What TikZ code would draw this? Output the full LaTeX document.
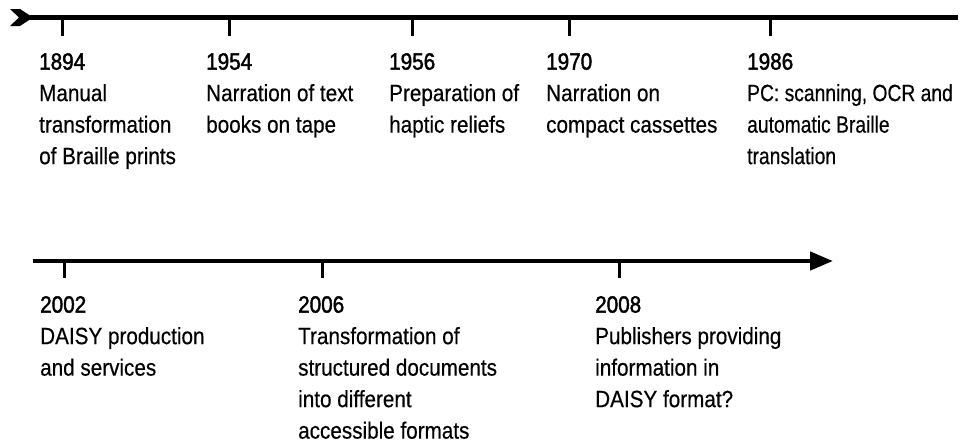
\documentclass[tikz,border=0pt]{standalone}
\usepackage{fontspec}
\setmainfont{Liberation Sans}[FakeStretch=0.88,FakeBold=0.4]
\newfontfamily\yearfont{Liberation Sans}[FakeStretch=0.88,FakeBold=1.8]
\newfontfamily\narrowfont{Liberation Sans}[FakeStretch=0.82,FakeBold=0.4]
\usetikzlibrary{arrows.meta,positioning}

\begin{document}
\begin{tikzpicture}[
        x=1pt, y=-1pt,
        axis/.style={line width=4.5pt},
        tickmark/.style={line width=3pt},
        event/.style={anchor=north west,align=left,inner sep=0pt,
                      font=\fontsize{23.5}{31.5}\selectfont}
      ]
      \useasboundingbox (0,0) rectangle (965,445);

      % the two time axes
      \coordinate (topL) at (10,17.5);
      \coordinate (topR) at (958,17.5);
      \coordinate (botL) at (33,261);
      \coordinate (botR) at (833,261);
      \fill (topL) ++(0,-8.5) -- ++(10,0) -- ++(13,8.5) -- ++(-13,8.5)
            -- ++(-10,0) -- ++(9,-8.5) -- cycle;
      \draw[axis] (topL) ++(20,0) -- (topR);
      \draw[axis,-{Triangle[length=23pt,width=18pt]}] (botL) -- (botR);

      % events on the upper axis
      \foreach \x/\yr/\txt in {
          62/1894/{Manual\\transformation\\of Braille prints},
          229/1954/{Narration of text\\books on tape},
          412/1956/{Preparation of\\haptic reliefs},
          569/1970/{Narration on\\compact cassettes},
          770/1986/{\narrowfont PC: scanning, OCR and\\\narrowfont automatic Braille\\\narrowfont translation}}{
        \coordinate (t\yr) at (\x,17.5);
        \draw[tickmark] (t\yr) -- ++(0,18.5);
        \node[event] (e\yr) at (\x-23,53) {{\yearfont\yr}\\\txt};
      }

      % events on the lower axis
      \foreach \x/\yr/\txt in {
          64/2002/{DAISY production\\and services},
          322/2006/{Transformation of\\structured documents\\into different\\accessible formats},
          619/2008/{Publishers providing\\information in\\DAISY format?}}{
        \coordinate (t\yr) at (\x,261);
        \draw[tickmark] (t\yr) -- ++(0,17);
        \node[event] (e\yr) at (\x-24,296) {{\yearfont\yr}\\\txt};
      }
    \end{tikzpicture}
\end{document}
